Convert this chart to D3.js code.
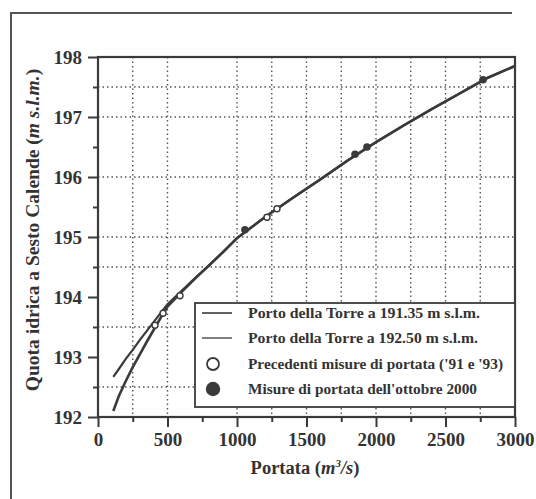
<!DOCTYPE html>
<html><head><meta charset="utf-8">
<script src="https://cdn.jsdelivr.net/npm/d3@7"></script>
<style>
html,body{margin:0;padding:0;background:#fff;}
svg{display:block;}
text{font-family:"Liberation Serif","DejaVu Serif",serif;font-weight:bold;fill:#333;}
</style></head>
<body>
<svg id="chart" width="536" height="499"></svg>
<script>
// ---- data ----
const discharge = [110, 150, 200, 250, 300, 350, 400, 450, 500, 600, 700, 800, 900, 1000, 1200, 1400, 1600, 1800, 2000, 2200, 2400, 2600, 2800, 3000];
const levelTorre19135 = [192.10, 192.35, 192.60, 192.83, 193.04, 193.25, 193.45, 193.65, 193.84, 194.08, 194.31, 194.53, 194.75, 194.98, 195.33, 195.65, 195.96, 196.28, 196.58, 196.86, 197.13, 197.39, 197.65, 197.85];
const levelTorre19250 = [192.67, 192.80, 192.97, 193.12, 193.28, 193.43, 193.58, 193.73, 193.88, 194.10, 194.32, 194.53, 194.75, 194.98, 195.33, 195.65, 195.96, 196.28, 196.58, 196.86, 197.13, 197.39, 197.65, 197.85];
const prevQ = [410, 468, 590, 1216, 1288];
const prevH = [193.53, 193.73, 194.02, 195.33, 195.47];
const oct2000Q = [1057, 1849, 1935, 2770];
const oct2000H = [195.12, 196.38, 196.5, 197.62];
const xTicks = [0, 500, 1000, 1500, 2000, 2500, 3000];
const xMinorTicks = [250, 750, 1250, 1750, 2250, 2750];
const yTicks = [192, 193, 194, 195, 196, 197, 198];
const yMinorTicks = [192.5, 193.5, 194.5, 195.5, 196.5, 197.5];
const xGrid = [250, 500, 1000, 1250, 1500, 1750, 2000, 2250, 2500, 2750];
const yGrid = [192.5, 193.5, 194.5, 195, 196, 197, 197.5];
const legendLabels = [
  "Porto della Torre a 191.35 m s.l.m.",
  "Porto della Torre a 192.50 m s.l.m.",
  "Precedenti misure di portata ('91 e '93)",
  "Misure di portata dell'ottobre 2000"
];

// ---- drawing ----
const svg = d3.select("#chart");
const ink = "#3a3a3a";
const x = d3.scaleLinear().domain([0, 3000]).range([98, 515]);
const y = d3.scaleLinear().domain([192, 198]).range([417, 57]);

// outer frame (left and top)
svg.append("path").attr("d", "M11,499 L11,13 L512,13")
  .attr("fill", "none").attr("stroke", "#555").attr("stroke-width", 2);

// grid
const grid = svg.append("g").attr("stroke", "#555").attr("stroke-width", 1.4)
  .attr("stroke-dasharray", "1.5,3").attr("fill", "none");
grid.selectAll(".vg").data(xGrid).join("line")
  .attr("x1", d => x(d)).attr("x2", d => x(d)).attr("y1", y(198)).attr("y2", y(192));
grid.selectAll(".hg").data(yGrid).join("line").attr("class", "hg")
  .attr("x1", x(0)).attr("x2", x(3000)).attr("y1", d => y(d)).attr("y2", d => y(d));

// axes
const xAxis = d3.axisBottom(x).tickValues(xTicks).tickSize(10).tickPadding(6).tickFormat(d3.format("d"));
const gx = svg.append("g").attr("transform", `translate(0,${y(192)})`).call(xAxis);
const gxm = svg.append("g").attr("transform", `translate(0,${y(192)})`)
  .call(d3.axisBottom(x).tickValues(xMinorTicks).tickSize(5).tickFormat(""));
const yAxis = d3.axisLeft(y).tickValues(yTicks).tickSize(10).tickPadding(6).tickFormat(d3.format("d"));
const gy = svg.append("g").attr("transform", `translate(${x(0)},0)`).call(yAxis);
const gym = svg.append("g").attr("transform", `translate(${x(0)},0)`)
  .call(d3.axisLeft(y).tickValues(yMinorTicks).tickSize(5).tickFormat(""));
[gx, gxm, gy, gym].forEach(g => {
  g.select(".domain").remove();
  g.selectAll("line").attr("stroke", ink).attr("stroke-width", 2);
  g.selectAll("text").attr("font-size", 19).attr("fill", "#333")
    .attr("font-family", "Liberation Serif").attr("font-weight", "bold");
});
svg.append("rect").attr("x", x(0)).attr("y", y(198)).attr("width", x(3000) - x(0)).attr("height", y(192) - y(198))
  .attr("fill", "none").attr("stroke", ink).attr("stroke-width", 2.2);

// curves
const lineA = d3.line().x((d, i) => x(discharge[i])).y(d => y(d));
svg.append("path").attr("d", lineA(levelTorre19135)).attr("fill", "none")
  .attr("stroke", ink).attr("stroke-width", 2.6);
svg.append("path").attr("d", lineA(levelTorre19250)).attr("fill", "none")
  .attr("stroke", ink).attr("stroke-width", 2.2);

// markers
svg.append("g").selectAll("circle").data(prevQ).join("circle")
  .attr("cx", d => x(d)).attr("cy", (d, i) => y(prevH[i])).attr("r", 3)
  .attr("fill", "#fff").attr("stroke", ink).attr("stroke-width", 1.4);
svg.append("g").selectAll("circle").data(oct2000Q).join("circle")
  .attr("cx", d => x(d)).attr("cy", (d, i) => y(oct2000H[i])).attr("r", 3.8)
  .attr("fill", ink);

// legend
const lg = svg.append("g");
lg.append("rect").attr("x", 195).attr("y", 303).attr("width", x(3000) - 195).attr("height", 104)
  .attr("fill", "#fff").attr("stroke", ink).attr("stroke-width", 1.8);
const rowY = [313, 338, 364, 389];
const rowW = [232, 230, 255, 229];
lg.append("line").attr("x1", 202).attr("x2", 232).attr("y1", rowY[0]).attr("y2", rowY[0]).attr("stroke", ink).attr("stroke-width", 1.6);
lg.append("line").attr("x1", 202).attr("x2", 232).attr("y1", rowY[1]).attr("y2", rowY[1]).attr("stroke", ink).attr("stroke-width", 1.3);
lg.append("circle").attr("cx", 213).attr("cy", rowY[2]).attr("r", 6).attr("fill", "#fff").attr("stroke", ink).attr("stroke-width", 1.8);
lg.append("circle").attr("cx", 213).attr("cy", rowY[3]).attr("r", 7.2).attr("fill", ink);
lg.selectAll("text").data(legendLabels).join("text")
  .attr("x", 248).attr("y", (d, i) => rowY[i] + 5).attr("font-size", 14)
  .attr("textLength", (d, i) => rowW[i]).attr("lengthAdjust", "spacingAndGlyphs").text(d => d);

// axis titles
const xt = svg.append("text").attr("x", 305).attr("y", 474).attr("text-anchor", "middle").attr("font-size", 18.5);
xt.append("tspan").text("Portata (");
xt.append("tspan").attr("font-style", "italic").text("m");
xt.append("tspan").attr("font-style", "italic").attr("font-size", 11).attr("dy", -7).text("3");
xt.append("tspan").attr("font-style", "italic").attr("dy", 7).text("/s");
xt.append("tspan").text(")");

const yt = svg.append("text").attr("transform", "translate(39,230) rotate(-90)")
  .attr("text-anchor", "middle").attr("font-size", 19.5);
yt.append("tspan").text("Quota idrica a Sesto Calende (");
yt.append("tspan").attr("font-style", "italic").text("m s.l.m.");
yt.append("tspan").text(")");
</script>
</body></html>
